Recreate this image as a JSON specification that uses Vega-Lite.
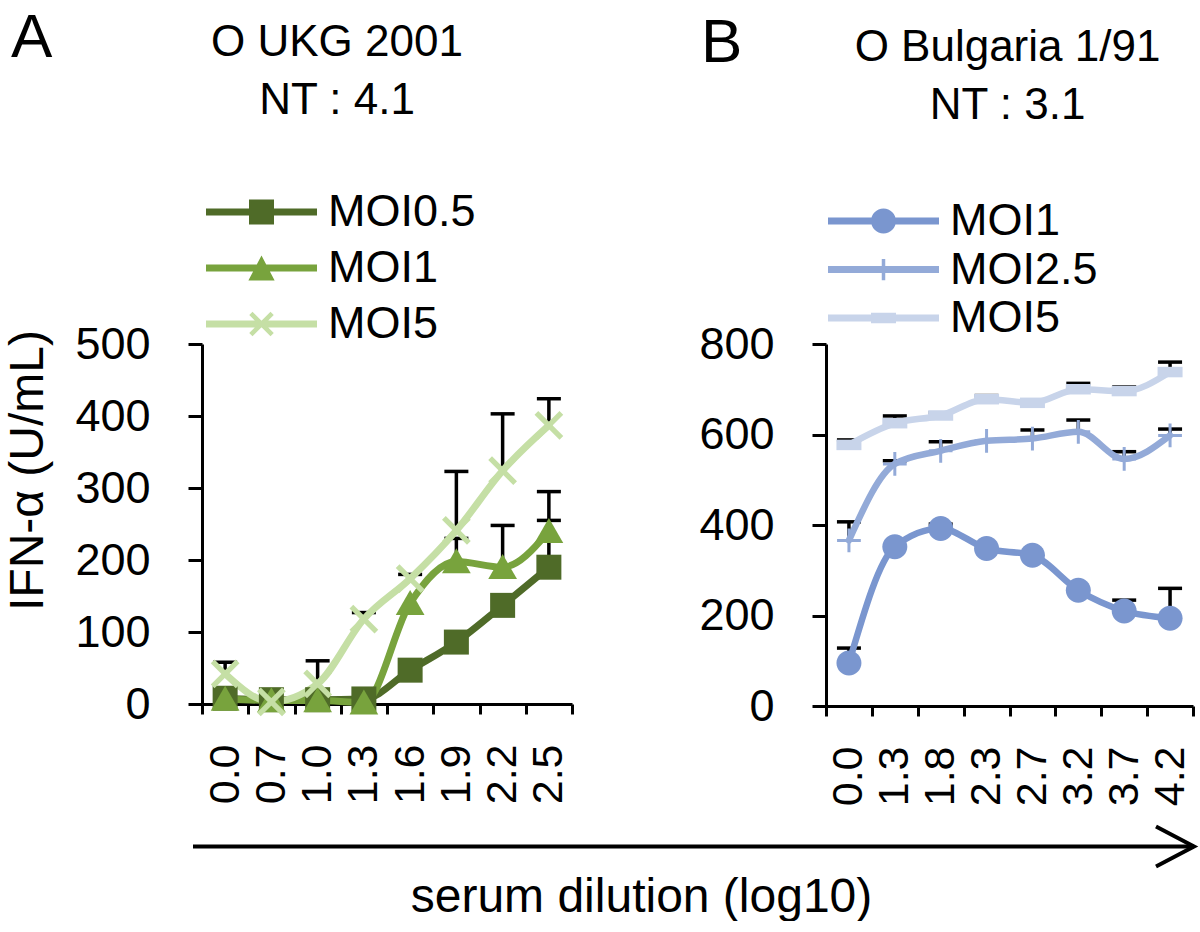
{
  "$schema": "https://vega.github.io/schema/vega-lite/v6.json",
  "background": "white",
  "padding": {"left": 4, "top": 6, "right": 0, "bottom": 0},
  "config": {
    "view": {"stroke": null},
    "font": "Liberation Sans",
    "title": {"color": "black", "font": "Liberation Sans", "fontWeight": "normal"},
    "axis": {"labelFont": "Liberation Sans", "titleFont": "Liberation Sans", "labelColor": "black", "titleColor": "black", "domainColor": "black", "tickColor": "black", "grid": false, "titleFontWeight": "normal"},
    "legend": {"labelFont": "Liberation Sans", "labelColor": "black"}
  },
  "datasets": {
    "ukg": [
      {"series": "MOI0.5", "dil": "0.0", "value": 8},
      {"series": "MOI0.5", "dil": "0.7", "value": 6},
      {"series": "MOI0.5", "dil": "1.0", "value": 6},
      {"series": "MOI0.5", "dil": "1.3", "value": 7},
      {"series": "MOI0.5", "dil": "1.6", "value": 47},
      {"series": "MOI0.5", "dil": "1.9", "value": 86},
      {"series": "MOI0.5", "dil": "2.2", "value": 137},
      {"series": "MOI0.5", "dil": "2.5", "value": 190, "upper": 255},
      {"series": "MOI1", "dil": "0.0", "value": 7},
      {"series": "MOI1", "dil": "0.7", "value": 5},
      {"series": "MOI1", "dil": "1.0", "value": 5},
      {"series": "MOI1", "dil": "1.3", "value": 2},
      {"series": "MOI1", "dil": "1.6", "value": 140},
      {"series": "MOI1", "dil": "1.9", "value": 198, "upper": 230},
      {"series": "MOI1", "dil": "2.2", "value": 190, "upper": 248},
      {"series": "MOI1", "dil": "2.5", "value": 240, "upper": 295},
      {"series": "MOI5", "dil": "0.0", "value": 42, "upper": 58},
      {"series": "MOI5", "dil": "0.7", "value": 3},
      {"series": "MOI5", "dil": "1.0", "value": 28, "upper": 60},
      {"series": "MOI5", "dil": "1.3", "value": 118, "upper": 127},
      {"series": "MOI5", "dil": "1.6", "value": 174, "upper": 180},
      {"series": "MOI5", "dil": "1.9", "value": 241, "upper": 323},
      {"series": "MOI5", "dil": "2.2", "value": 324, "upper": 403},
      {"series": "MOI5", "dil": "2.5", "value": 387, "upper": 424}
    ],
    "bul": [
      {"series": "MOI1", "dil": "0.0", "value": 95, "upper": 128},
      {"series": "MOI1", "dil": "1.3", "value": 352},
      {"series": "MOI1", "dil": "1.8", "value": 392, "upper": 402},
      {"series": "MOI1", "dil": "2.3", "value": 348},
      {"series": "MOI1", "dil": "2.7", "value": 333},
      {"series": "MOI1", "dil": "3.2", "value": 256},
      {"series": "MOI1", "dil": "3.7", "value": 210, "upper": 234},
      {"series": "MOI1", "dil": "4.2", "value": 194, "upper": 260},
      {"series": "MOI2.5", "dil": "0.0", "value": 366, "upper": 407},
      {"series": "MOI2.5", "dil": "1.3", "value": 535, "upper": 542},
      {"series": "MOI2.5", "dil": "1.8", "value": 564, "upper": 584},
      {"series": "MOI2.5", "dil": "2.3", "value": 586},
      {"series": "MOI2.5", "dil": "2.7", "value": 591, "upper": 610},
      {"series": "MOI2.5", "dil": "3.2", "value": 606, "upper": 632},
      {"series": "MOI2.5", "dil": "3.7", "value": 546, "upper": 562},
      {"series": "MOI2.5", "dil": "4.2", "value": 598, "upper": 612},
      {"series": "MOI5", "dil": "0.0", "value": 577, "upper": 588},
      {"series": "MOI5", "dil": "1.3", "value": 625, "upper": 641},
      {"series": "MOI5", "dil": "1.8", "value": 642, "upper": 648},
      {"series": "MOI5", "dil": "2.3", "value": 678, "upper": 686},
      {"series": "MOI5", "dil": "2.7", "value": 670},
      {"series": "MOI5", "dil": "3.2", "value": 700, "upper": 713},
      {"series": "MOI5", "dil": "3.7", "value": 696, "upper": 705},
      {"series": "MOI5", "dil": "4.2", "value": 738, "upper": 760}
    ],
    "arrow": [{"start": 0, "end": 1}]
  },
  "spacing": 12,
  "vconcat": [
    {
      "spacing": 124,
      "hconcat": [
        {
          "title": {"text": "A", "fontSize": 62, "anchor": "start", "offset": -49, "dx": 6},
          "vconcat": [
            {
              "width": 370,
              "height": 360,
              "data": {"name": "ukg"},
              "title": {"text": ["O UKG 2001", "NT : 4.1"], "fontSize": 44, "anchor": "middle", "frame": "group", "dx": -50, "lineHeight": 58, "offset": 67},
              "encoding": {
                "x": {"field": "dil", "type": "ordinal", "scale": {"type": "band", "paddingInner": 0, "paddingOuter": 0},
                  "axis": {"title": null, "labelAngle": -90, "labelFontSize": 43, "labelPadding": 30, "tickBand": "extent", "tickSize": 10, "tickWidth": 3, "domainWidth": 3}},
                "y": {"field": "value", "type": "quantitative", "scale": {"domain": [0, 500]},
                  "axis": {"title": "IFN-α (U/mL)", "values": [0, 100, 200, 300, 400, 500], "labelFontSize": 45, "labelPadding": 38, "tickSize": 14, "tickWidth": 3, "domainWidth": 3, "titleFontSize": 48, "titlePadding": 22, "titleY": 126}}
              },
              "layer": [
                {
                  "transform": [{"filter": "isValid(datum.upper)"}],
                  "mark": {"type": "rule", "color": "black", "strokeWidth": 3.5},
                  "encoding": {"y2": {"field": "upper"}}
                },
                {
                  "transform": [{"filter": "isValid(datum.upper)"}],
                  "mark": {"type": "tick", "orient": "horizontal", "color": "black", "size": 24, "thickness": 3.5, "opacity": 1},
                  "encoding": {"y": {"field": "upper", "type": "quantitative", "title": "IFN-α (U/mL)"}}
                },
                {
                  "mark": {"type": "line", "interpolate": "monotone", "strokeWidth": 7, "strokeCap": "round", "strokeJoin": "round"},
                  "encoding": {"color": {"field": "series", "type": "nominal", "scale": {"domain": ["MOI0.5", "MOI1", "MOI5"], "range": ["#4f6b28", "#78a33d", "#c5dfa5"]}, "legend": null}}
                },
                {
                  "mark": {"type": "point", "filled": true, "opacity": 1, "size": 625, "strokeWidth": 0},
                  "encoding": {
                    "color": {"field": "series", "type": "nominal", "scale": {"domain": ["MOI0.5", "MOI1", "MOI5"], "range": ["#4f6b28", "#78a33d", "#c5dfa5"]}, "legend": null},
                    "shape": {"field": "series", "type": "nominal", "scale": {"domain": ["MOI0.5", "MOI1", "MOI5"], "range": ["M-1,-1H1V1H-1Z", "M0,-1.05L1.15,0.95H-1.15Z", "M-0.85,-1.15L1.15,0.85L0.85,1.15L-1.15,-0.85Z M0.85,-1.15L1.15,-0.85L-0.85,1.15L-1.15,0.85Z"]}, "legend": null}
                  }
                },
                {
                  "transform": [{"filter": "false"}],
                  "mark": {"type": "point", "filled": true, "opacity": 1, "size": 625, "strokeWidth": 0},
                  "encoding": {
                    "color": {"field": "series", "type": "nominal", "scale": {"domain": ["MOI0.5", "MOI1", "MOI5"], "range": ["#4f6b28", "#78a33d", "#c5dfa5"]},
                      "legend": {"title": null, "orient": "none", "legendX": 37, "legendY": -154.5, "labelFontSize": 45, "labelOffset": 44, "symbolSize": 625, "symbolStrokeWidth": 0, "rowPadding": 10, "padding": 0, "labelLimit": 400}},
                    "shape": {"field": "series", "type": "nominal", "scale": {"domain": ["MOI0.5", "MOI1", "MOI5"], "range": [
                      "M-4.44,-0.28H4.44V0.28H-4.44Z M-1,-1H1V1H-1Z",
                      "M-4.44,-0.28H4.44V0.28H-4.44Z M0,-1L1.05,1H-1.05Z",
                      "M-4.44,-0.28H4.44V0.28H-4.44Z M-0.72,-0.98L0.98,0.72L0.72,0.98L-0.98,-0.72Z M0.72,-0.98L0.98,-0.72L-0.72,0.98L-0.98,0.72Z"]},
                      "legend": {"title": null, "orient": "none", "legendX": 37, "legendY": -154.5, "labelFontSize": 45, "labelOffset": 44, "symbolSize": 625, "symbolStrokeWidth": 0, "rowPadding": 10, "padding": 0, "labelLimit": 400}}
                  }
                }
              ],
              "resolve": {"scale": {"color": "independent", "shape": "independent"}}
            }
          ]
        },
        {
          "title": {"text": "B", "fontSize": 62, "anchor": "start", "offset": -49, "dx": 2},
          "vconcat": [
            {
              "width": 367,
              "height": 362,
              "data": {"name": "bul"},
              "title": {"text": ["O Bulgaria 1/91", "NT : 3.1"], "fontSize": 44, "anchor": "middle", "frame": "group", "dx": -2, "lineHeight": 58, "offset": 71},
              "encoding": {
                "x": {"field": "dil", "type": "ordinal", "scale": {"type": "band", "paddingInner": 0, "paddingOuter": 0},
                  "axis": {"title": null, "labelAngle": -90, "labelFontSize": 43, "labelPadding": 30, "tickBand": "extent", "tickSize": 10, "tickWidth": 3, "domainWidth": 3}},
                "y": {"field": "value", "type": "quantitative", "scale": {"domain": [0, 800]},
                  "axis": {"title": null, "values": [0, 200, 400, 600, 800], "labelFontSize": 45, "labelPadding": 38, "tickSize": 14, "tickWidth": 3, "domainWidth": 3}}
              },
              "layer": [
                {
                  "transform": [{"filter": "isValid(datum.upper)"}],
                  "mark": {"type": "rule", "color": "black", "strokeWidth": 3.5},
                  "encoding": {"y2": {"field": "upper"}}
                },
                {
                  "transform": [{"filter": "isValid(datum.upper)"}],
                  "mark": {"type": "tick", "orient": "horizontal", "color": "black", "size": 24, "thickness": 3.5, "opacity": 1},
                  "encoding": {"y": {"field": "upper", "type": "quantitative", "title": null}}
                },
                {
                  "mark": {"type": "line", "interpolate": "monotone", "strokeWidth": 6.5, "strokeCap": "round", "strokeJoin": "round"},
                  "encoding": {"color": {"field": "series", "type": "nominal", "scale": {"domain": ["MOI1", "MOI2.5", "MOI5"], "range": ["#7a96cf", "#93aad8", "#c8d4ea"]}, "legend": null}}
                },
                {
                  "mark": {"type": "point", "filled": true, "opacity": 1, "size": 625, "strokeWidth": 0},
                  "encoding": {
                    "color": {"field": "series", "type": "nominal", "scale": {"domain": ["MOI1", "MOI2.5", "MOI5"], "range": ["#7a96cf", "#93aad8", "#c8d4ea"]}, "legend": null},
                    "shape": {"field": "series", "type": "nominal", "scale": {"domain": ["MOI1", "MOI2.5", "MOI5"], "range": ["M-1,0A1,1,0,1,1,1,0A1,1,0,1,1,-1,0Z", "M-0.95,-0.12H0.95V0.12H-0.95Z M-0.12,-0.95H0.12V0.95H-0.12Z", "M-1,-0.42H1V0.42H-1Z"]}, "legend": null}
                  }
                },
                {
                  "transform": [{"filter": "false"}],
                  "mark": {"type": "point", "filled": true, "opacity": 1, "size": 625, "strokeWidth": 0},
                  "encoding": {
                    "color": {"field": "series", "type": "nominal", "scale": {"domain": ["MOI1", "MOI2.5", "MOI5"], "range": ["#7a96cf", "#93aad8", "#c8d4ea"]},
                      "legend": {"title": null, "orient": "none", "legendX": 35, "legendY": -145.5, "labelFontSize": 45, "labelOffset": 44, "symbolSize": 625, "symbolStrokeWidth": 0, "rowPadding": 2.5, "padding": 0, "labelLimit": 400}},
                    "shape": {"field": "series", "type": "nominal", "scale": {"domain": ["MOI1", "MOI2.5", "MOI5"], "range": [
                      "M-4.44,-0.28H4.44V0.28H-4.44Z M-1,0A1,1,0,1,1,1,0A1,1,0,1,1,-1,0Z",
                      "M-4.44,-0.28H4.44V0.28H-4.44Z M-0.14,-0.85H0.14V0.85H-0.14Z",
                      "M-4.44,-0.28H4.44V0.28H-4.44Z M-1,-0.42H1V0.42H-1Z"]},
                      "legend": {"title": null, "orient": "none", "legendX": 35, "legendY": -145.5, "labelFontSize": 45, "labelOffset": 44, "symbolSize": 625, "symbolStrokeWidth": 0, "rowPadding": 2.5, "padding": 0, "labelLimit": 400}}
                  }
                }
              ],
              "resolve": {"scale": {"color": "independent", "shape": "independent"}}
            }
          ]
        }
      ]
    },
    {
      "width": 1000,
      "height": 1,
      "data": {"name": "arrow"},
      "layer": [
        {
          "mark": {"type": "rule", "color": "black", "strokeWidth": 4},
          "encoding": {
            "x": {"field": "start", "type": "quantitative", "scale": {"domain": [0, 1], "range": [-9, 992]},
              "axis": {"title": "serum dilution (log10)", "labels": false, "ticks": false, "domain": false, "titleFontSize": 48, "titlePadding": 26, "titleX": 439}},
            "x2": {"field": "end"}
          }
        },
        {
          "mark": {"type": "point", "shape": "M-1.9,-1L0,0L-1.9,1", "filled": false, "size": 1600, "strokeWidth": 4, "color": "black", "opacity": 1, "strokeJoin": "miter"},
          "encoding": {"x": {"field": "end", "type": "quantitative"}}
        }
      ]
    }
  ]
}
